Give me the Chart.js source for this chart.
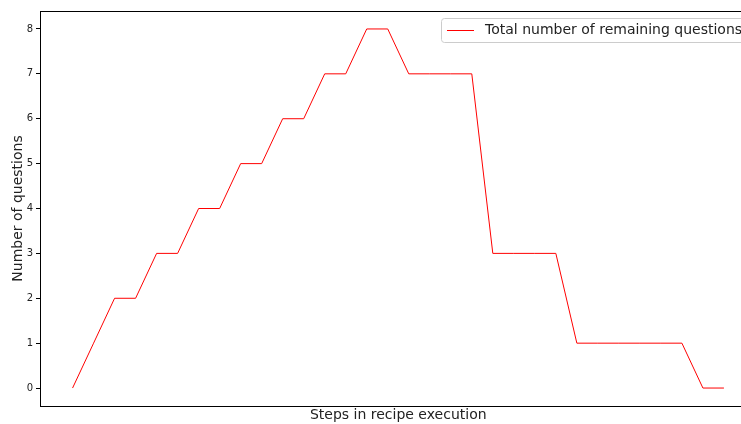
<!DOCTYPE html>
<html>
<head>
<meta charset="utf-8">
<script src="https://cdn.jsdelivr.net/npm/chart.js@4.4.0/dist/chart.umd.min.js"></script>
<style>
  html, body { margin: 0; padding: 0; background: #fff; overflow: hidden; width: 741px; height: 424px; }
  #wrap { position: absolute; left: 0; top: 0; width: 780px; height: 424px; }
</style>
</head>
<body>
<div id="wrap"><canvas id="c" width="780" height="424"></canvas></div>
<script>
// Data
const steps = [0,1,2,3,4,5,6,7,8,9,10,11,12,13,14,15,16,17,18,19,20,21,22,23,24,25,26,27,28,29,30,31];
const remainingQuestions = [0,1,2,2,3,3,4,4,5,5,6,6,7,7,8,8,7,7,7,7,3,3,3,3,1,1,1,1,1,1,0,0];
const yTickValues = [0,1,2,3,4,5,6,7,8];
const seriesLabel = 'Total number of remaining questions';
const xTitle = 'Steps in recipe execution';
const yTitle = 'Number of questions';

const FONT = '"DejaVu Sans", sans-serif';
const TEXT = '#222';

const framePlugin = {
  id: 'frame',
  afterDraw(chart) {
    const {ctx, chartArea: a} = chart;
    ctx.save();
    ctx.strokeStyle = '#000';
    ctx.lineWidth = 1;
    ctx.strokeRect(Math.round(a.left) + 0.5, Math.round(a.top) + 0.5,
                   Math.round(a.right - a.left), Math.round(a.bottom - a.top));
    // legend
    const ds = chart.data.datasets[0];
    const bx = a.right - 315.5, by = a.top + 7, bw = 330, bh = 24, r = 3;
    ctx.fillStyle = 'rgba(255,255,255,0.8)';
    ctx.strokeStyle = '#cccccc';
    ctx.beginPath();
    ctx.roundRect(bx + 0.5, by + 0.5, bw, bh, r);
    ctx.fill();
    ctx.stroke();
    const cy = by + bh / 2 + 0.5;
    ctx.strokeStyle = ds.borderColor;
    ctx.lineWidth = 1;
    ctx.beginPath();
    ctx.moveTo(bx + 6, cy);
    ctx.lineTo(bx + 33, cy);
    ctx.stroke();
    ctx.fillStyle = TEXT;
    ctx.font = '14px ' + FONT;
    ctx.textBaseline = 'middle';
    ctx.textAlign = 'left';
    ctx.fillText(ds.label, bx + 44, cy);
    ctx.restore();
  }
};

new Chart(document.getElementById('c'), {
  type: 'line',
  data: {
    datasets: [{
      label: seriesLabel,
      data: steps.map((s, i) => ({x: s, y: remainingQuestions[i]})),
      borderColor: '#ff0000',
      borderWidth: 1,
      pointRadius: 0,
      fill: false,
      tension: 0
    }]
  },
  options: {
    responsive: false,
    animation: false,
    layout: { padding: { left: 0, top: 11, right: 23.5, bottom: 0 } },
    plugins: { legend: { display: false }, tooltip: { enabled: false } },
    scales: {
      x: {
        type: 'linear',
        min: -1.55,
        max: 32.55,
        grid: { display: false },
        border: { display: false },
        ticks: { display: false },
        title: { display: true, text: xTitle, color: TEXT, font: { family: FONT, size: 14 }, padding: { top: 0, bottom: 0 } },
        afterFit(s) { s.height = 18; }
      },
      y: {
        min: -0.4,
        max: 8.4,
        afterBuildTicks(s) { s.ticks = yTickValues.map(v => ({value: v})); },
        grid: { drawOnChartArea: false, drawTicks: true, tickLength: 4, color: '#000' },
        border: { display: false },
        ticks: { color: TEXT, font: { family: FONT, size: 10 }, padding: 3 },
        title: { display: true, text: yTitle, color: TEXT, font: { family: FONT, size: 14 }, padding: { top: 10, bottom: 0 } },
        afterFit(s) { s.width = 40; }
      }
    }
  },
  plugins: [framePlugin]
});
</script>
</body>
</html>
